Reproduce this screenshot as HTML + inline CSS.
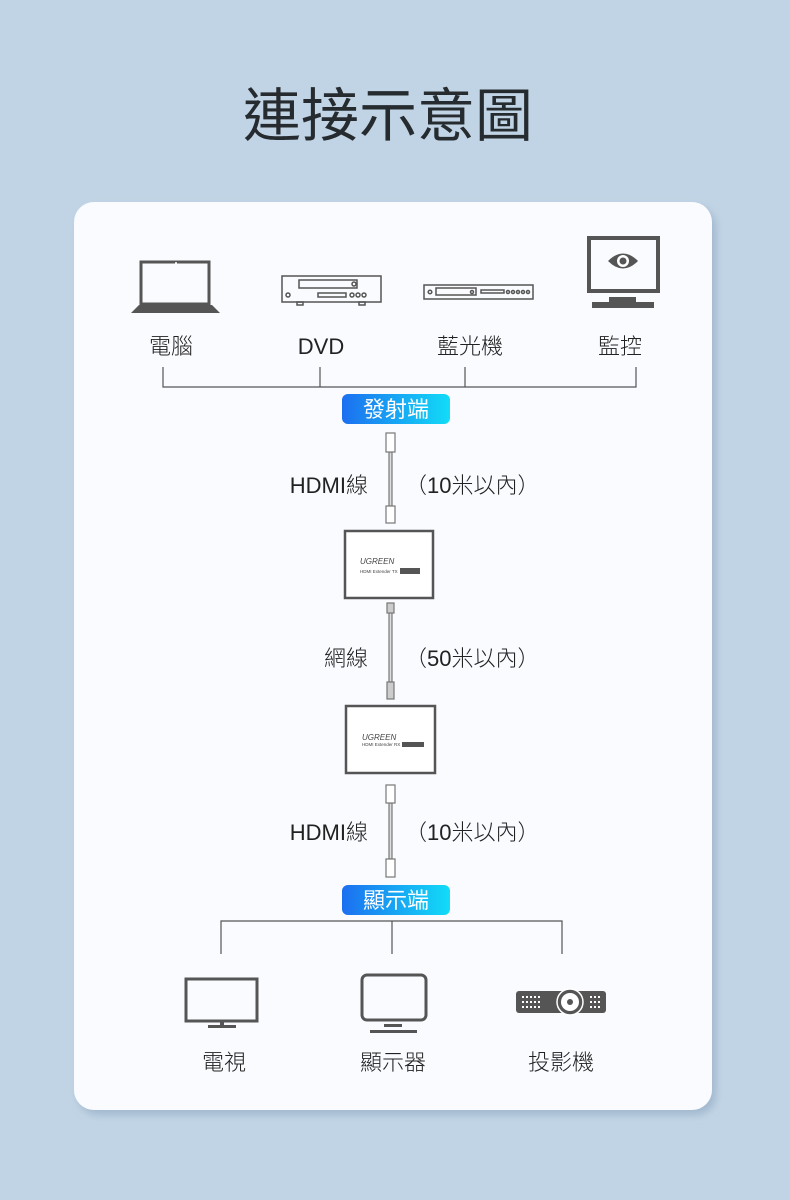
<!DOCTYPE html>
<html><head><meta charset="utf-8"><style>
html,body{margin:0;padding:0;}
body{width:790px;height:1200px;background:#c1d4e5;position:relative;overflow:hidden;font-family:"Liberation Sans","Noto Sans CJK TC",sans-serif;}
svg{position:absolute;left:0;top:0;}
</style></head><body>
<svg width="790" height="1200" viewBox="0 0 790 1200" xmlns="http://www.w3.org/2000/svg" font-family="Liberation Sans, Noto Sans CJK TC, sans-serif">
<defs>
<linearGradient id="g" x1="0" x2="1" y1="0" y2="0"><stop offset="0" stop-color="#1c6ff0"/><stop offset="1" stop-color="#12dcf7"/></linearGradient>
<filter id="sh" x="-5%" y="-5%" width="110%" height="110%"><feDropShadow dx="4" dy="5" stdDeviation="4" flood-color="#8da6c0" flood-opacity="0.6"/></filter>
</defs>
<text x="388" y="136" font-size="58" fill="#262b30" text-anchor="middle" font-family="Noto Sans CJK TC, sans-serif">連接示意圖</text>
<rect x="74" y="202" width="638" height="908" rx="20" fill="#f9fbfe" filter="url(#sh)"/>

<g fill="none" stroke="#555" stroke-width="3">
<rect x="141" y="262" width="68" height="42"/>
</g>
<polygon points="131,313 220,313 212,305 139,305" fill="#555"/>
<circle cx="176" cy="263" r="1" fill="#fff"/>
<g fill="none" stroke="#555" stroke-width="1.5">
<rect x="282" y="276" width="99" height="26"/>
<rect x="299" y="280" width="58" height="8"/>
<rect x="318" y="293" width="28" height="4"/>
<circle cx="288" cy="295" r="2"/><circle cx="352" cy="295" r="2"/><circle cx="358" cy="295" r="2"/><circle cx="364" cy="295" r="2"/>
<circle cx="354" cy="284" r="2"/>
<rect x="297" y="302" width="6" height="3"/><rect x="359" y="302" width="6" height="3"/>
<rect x="424" y="285" width="109" height="14"/>
<rect x="436" y="288" width="40" height="7"/>
<rect x="481" y="290" width="23" height="3"/>
<circle cx="430" cy="292" r="1.8"/><circle cx="472" cy="292" r="1.5"/>
<circle cx="508" cy="292" r="1.5"/><circle cx="513" cy="292" r="1.5"/><circle cx="518" cy="292" r="1.5"/><circle cx="523" cy="292" r="1.5"/><circle cx="528" cy="292" r="1.5"/>
</g>
<rect x="589" y="238" width="69" height="53" fill="none" stroke="#555" stroke-width="4"/>
<path d="M608,261 Q623,246 638,261 Q623,276 608,261Z" fill="#555"/>
<circle cx="623" cy="261" r="6" fill="#fff"/><circle cx="623" cy="261" r="3.5" fill="#555"/>
<rect x="609" y="297" width="27" height="7" fill="#555"/>
<rect x="592" y="302" width="62" height="6" fill="#555"/>

<g font-size="22" fill="#222" text-anchor="middle" font-weight="300">
<text x="171" y="354">電腦</text>
<text x="321" y="354">DVD</text>
<text x="470" y="354">藍光機</text>
<text x="620" y="354">監控</text>
</g>
<g stroke="#555" stroke-width="1.2" fill="none">
<path d="M163,367V387H636V367M320,367V387M465,367V387"/>
<path d="M221,954V921H562V954M392,921V954"/>
</g>
<rect x="342" y="394" width="108" height="30" rx="6" fill="url(#g)"/>
<text x="396" y="417" font-size="22" fill="#fff" text-anchor="middle">發射端</text>
<rect x="342" y="885" width="108" height="30" rx="6" fill="url(#g)"/>
<text x="396" y="908" font-size="22" fill="#fff" text-anchor="middle">顯示端</text>

<g fill="#fff" stroke="#777" stroke-width="1.2">
<rect x="389" y="452" width="3" height="54" fill="#ddd"/>
<rect x="386" y="433" width="9" height="19"/>
<rect x="386" y="506" width="9" height="17"/>
<rect x="389" y="612" width="3" height="70" fill="#ddd"/>
<rect x="387" y="603" width="7" height="10" fill="#ccc"/>
<rect x="387" y="682" width="7" height="17" fill="#ccc"/>
<rect x="389" y="803" width="3" height="56" fill="#ddd"/>
<rect x="386" y="785" width="9" height="18"/>
<rect x="386" y="859" width="9" height="18"/>
</g>
<g font-size="22" fill="#222" font-weight="300">
<text x="368" y="493" text-anchor="end">HDMI線</text>
<text x="405" y="493">（10米以內）</text>
<text x="368" y="666" text-anchor="end">網線</text>
<text x="405" y="666">（50米以內）</text>
<text x="368" y="840" text-anchor="end">HDMI線</text>
<text x="405" y="840">（10米以內）</text>
</g>
<rect x="345" y="531" width="88" height="67" fill="#fff" stroke="#555" stroke-width="2.5"/>
<text x="360" y="564" font-size="8" font-style="italic" fill="#444">UGREEN</text>
<text x="360" y="573" font-size="4.5" fill="#444">HDMI Extender TX</text>
<rect x="400" y="568" width="20" height="6" fill="#555"/>
<rect x="346" y="706" width="89" height="67" fill="#fff" stroke="#555" stroke-width="2.5"/>
<text x="362" y="740" font-size="8" font-style="italic" fill="#444">UGREEN</text>
<text x="362" y="746" font-size="4.5" fill="#444">HDMI Extender RX</text>
<rect x="402" y="742" width="22" height="5" fill="#555"/>

<rect x="186" y="979" width="71" height="42" fill="none" stroke="#555" stroke-width="3"/>
<rect x="220" y="1022" width="4" height="4" fill="#555"/>
<rect x="208" y="1025" width="28" height="3" fill="#555"/>
<rect x="362" y="975" width="64" height="45" rx="5" fill="none" stroke="#555" stroke-width="3"/>
<rect x="384" y="1024" width="18" height="3" fill="#555"/>
<rect x="370" y="1030" width="47" height="3" fill="#555"/>
<rect x="516" y="991" width="90" height="22" rx="3" fill="#555"/>
<circle cx="570" cy="1002" r="13" fill="#555" stroke="#fff" stroke-width="1.5"/>
<circle cx="570" cy="1002" r="9" fill="#fff"/><circle cx="570" cy="1002" r="3" fill="#555"/>
<g fill="#fff">
<rect x="522" y="996" width="2" height="2"/><rect x="526" y="996" width="2" height="2"/><rect x="530" y="996" width="2" height="2"/><rect x="534" y="996" width="2" height="2"/><rect x="538" y="996" width="2" height="2"/>
<rect x="522" y="1001" width="2" height="2"/><rect x="526" y="1001" width="2" height="2"/><rect x="530" y="1001" width="2" height="2"/><rect x="534" y="1001" width="2" height="2"/><rect x="538" y="1001" width="2" height="2"/>
<rect x="522" y="1006" width="2" height="2"/><rect x="526" y="1006" width="2" height="2"/><rect x="530" y="1006" width="2" height="2"/><rect x="534" y="1006" width="2" height="2"/><rect x="538" y="1006" width="2" height="2"/>
<rect x="590" y="996" width="2" height="2"/><rect x="594" y="996" width="2" height="2"/><rect x="598" y="996" width="2" height="2"/>
<rect x="590" y="1001" width="2" height="2"/><rect x="594" y="1001" width="2" height="2"/><rect x="598" y="1001" width="2" height="2"/>
<rect x="590" y="1006" width="2" height="2"/><rect x="594" y="1006" width="2" height="2"/><rect x="598" y="1006" width="2" height="2"/>
</g>
<g font-size="22" fill="#222" text-anchor="middle" font-weight="300">
<text x="224" y="1070">電視</text>
<text x="393" y="1070">顯示器</text>
<text x="561" y="1070">投影機</text>
</g>
</svg>
</body></html>
